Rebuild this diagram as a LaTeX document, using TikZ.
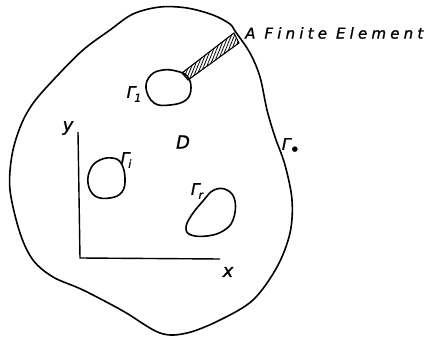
\documentclass[tikz,border=0pt]{standalone}
\usepackage{fontspec}
\usetikzlibrary{patterns.meta}
\newfontfamily\handfont[LetterSpace=28, FakeBold=1.2]{DejaVu Sans}
\newfontfamily\greekfont[FakeBold=1.2]{DejaVu Sans}
\newcommand{\gsub}[1]{\greekfont\itshape Γ\kern-0.08em\raisebox{-0.45ex}{\fontsize{11}{11}\selectfont #1}}
\tikzset{
    % Outer and inner boundaries
    boundary/.style={
        line width=1.6pt,
        line join=round
    },
    % Coordinate axes
    axisline/.style={
        line width=1.4pt
    },
    % Hatched strip
    elementstrip/.style={
        draw,
        line width=1.1pt,
        pattern={Lines[angle=68, distance=2.8pt, line width=0.8pt]}
    },
    % Labels
    gammalabel/.style={
        font=\fontsize{16}{16}\selectfont,
        inner sep=0pt
    },
    axislabel/.style={
        font=\fontsize{18}{18}\selectfont\greekfont\itshape,
        inner sep=0pt
    },
    titlelabel/.style={
        font=\fontsize{15}{15}\selectfont\handfont\itshape,
        inner sep=0pt,
        anchor=west
    }
}
\begin{document}
\begin{tikzpicture}[x=1pt, y=-1pt]
        \useasboundingbox (0,0) rectangle (425,339);

        % Outer boundary
        \draw[boundary] plot[smooth cycle, tension=0.55] coordinates {
            (235,31) (250,53) (260,77) (267,110) (275,137) (285,165)
            (292,200) (290,233) (277,267) (253,300) (220,320) (187,333)
            (160,333) (123,311) (83,290) (53,277) (33,260) (20,233)
            (10,190) (12,155) (21,125) (34,102) (57,76) (83,50)
            (110,30) (133,14) (160,7) (187,8) (213,15) (230,24)};

        % Holes
        \draw[boundary] plot[smooth cycle, tension=0.7] coordinates {
            (146,88) (151,75) (163,70) (176,71) (187,76) (191,88)
            (186,100) (170,105) (154,103)};
        \draw[boundary] plot[smooth cycle, tension=0.7] coordinates {
            (88,183) (91,168) (100,160) (112,158) (121,163) (125,178)
            (122,192) (110,198) (95,196)};
        \draw[boundary] plot[smooth cycle, tension=0.7] coordinates {
            (186,228) (191,216) (203,201) (214,190) (227,190) (235,201)
            (233,220) (223,231) (207,236) (191,235)};

        % Finite element strip
        \coordinate (e1) at (182,73);
        \coordinate (e2) at (234,33);
        \coordinate (e3) at (239,43);
        \coordinate (e4) at (188,80);
        \draw[elementstrip] (e1) -- (e2) -- (e3) -- (e4) -- cycle;

        % Axes
        \coordinate (origin) at (80,258);
        \coordinate (ytop) at (78,132);
        \coordinate (xend) at (220,259);
        \draw[axisline] (ytop) -- (origin) -- (xend);

        % Labels
        \node[titlelabel] (elem) at (245,33) {A Finite Element};
        \node[gammalabel] (g1) at (134,94) {\gsub{1}};
        \node[gammalabel] (gi) at (126,160) {\gsub{i}};
        \node[gammalabel] (gr) at (197,191) {\gsub{r}};
        \node[gammalabel] (go) at (291,147) {\gsub{\raisebox{-0.35ex}{\fontsize{18}{18}\selectfont •}}};
        \node[axislabel] (dom) at (183,142) {D};
        \node[axislabel] (ylab) at (68,128) {y};
        \node[axislabel] (xlab) at (228,272) {x};
    \end{tikzpicture}
\end{document}
